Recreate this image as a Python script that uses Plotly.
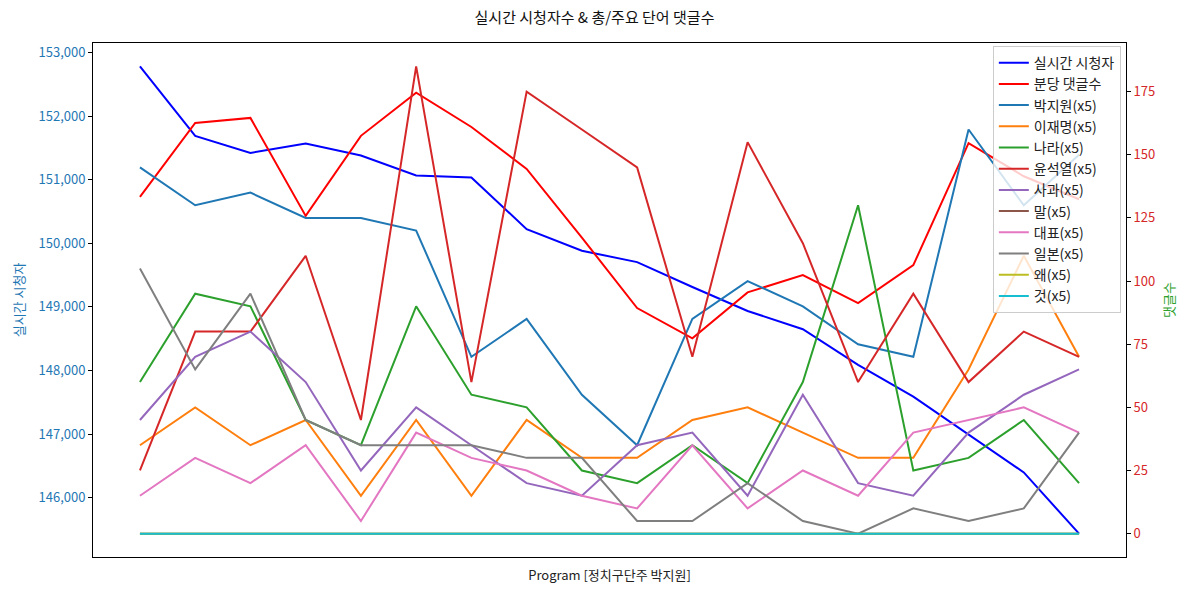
import plotly.graph_objects as go

FONT = "Noto Sans CJK KR"

idx = list(range(18))

viewers = [152781, 151687, 151420, 151567, 151379, 151065, 151034, 150222, 149882, 149704,
           149312, 148935, 148648, 148088, 147590, 146989, 146397, 145435]
comments = [133.3, 162.6, 164.6, 125.8, 157.5, 174.6, 161.0, 144.4, 117.2, 89.3,
            77.3, 95.5, 102.4, 91.3, 106.3, 154.6, 141.5, 132.4]

word_names = ["박지원(x5)", "이재명(x5)", "나라(x5)", "윤석열(x5)", "사과(x5)", "말(x5)",
              "대표(x5)", "일본(x5)", "왜(x5)", "것(x5)"]
w_park = [145, 130, 135, 125, 125, 120, 70, 85, 55, 35, 85, 100, 90, 75, 70, 160, 130, 150]
w_lee = [35, 50, 35, 45, 15, 45, 15, 45, 30, 30, 45, 50, 40, 30, 30, 65, 110, 70]
w_nara = [60, 95, 90, 45, 35, 90, 55, 50, 25, 20, 35, 20, 60, 130, 25, 30, 45, 20]
w_yoon = [25, 80, 80, 110, 45, 185, 60, 175, 160, 145, 70, 155, 115, 60, 95, 60, 80, 70]
w_sagwa = [45, 70, 80, 60, 25, 50, 35, 20, 15, 35, 40, 15, 55, 20, 15, 40, 55, 65]
w_mal = [0] * 18
w_daepyo = [15, 30, 20, 35, 5, 40, 30, 25, 15, 10, 35, 10, 25, 15, 40, 45, 50, 40]
w_ilbon = [105, 65, 95, 45, 35, 35, 35, 30, 30, 5, 5, 20, 5, 0, 10, 5, 10, 40]
w_wae = [0] * 18
w_geot = [0] * 18
word_values = [w_park, w_lee, w_nara, w_yoon, w_sagwa, w_mal, w_daepyo, w_ilbon, w_wae, w_geot]
word_colors = ["#1f77b4", "#ff7f0e", "#2ca02c", "#d62728", "#9467bd", "#8c564b",
               "#e377c2", "#7f7f7f", "#bcbd22", "#17becf"]

fig = go.Figure()
fig.add_trace(go.Scatter(x=idx, y=viewers, mode="lines", name="실시간 시청자",
                         line=dict(color="#0000ff", width=2), yaxis="y"))
fig.add_trace(go.Scatter(x=idx, y=comments, mode="lines", name="분당 댓글수",
                         line=dict(color="#ff0000", width=2), yaxis="y2"))
for n, v, c in zip(word_names, word_values, word_colors):
    fig.add_trace(go.Scatter(x=idx, y=v, mode="lines", name=n,
                             line=dict(color=c, width=2), yaxis="y2"))

def pad(lo, hi, m=0.05):
    d = (hi - lo) * m
    return [lo - d, hi + d]

all_right = comments + [v for s in word_values for v in s]

fig.update_layout(
    width=1189, height=592,
    margin=dict(l=93, r=63, t=43, b=35),
    paper_bgcolor="white", plot_bgcolor="white",
    font=dict(family=FONT, size=13, color="#222"),
    title=dict(text="실시간 시청자수 & 총/주요 단어 댓글수", x=0.5, xanchor="center",
               y=1 - 18 / 592, yanchor="middle", font=dict(size=15, color="#111")),
    xaxis=dict(range=pad(0, 17), showticklabels=False, ticks="", showgrid=False,
               zeroline=False, showline=True, linecolor="black", linewidth=1, mirror=True,
               title=dict(text="Program [정치구단주 박지원]", font=dict(size=13, color="#222"),
                          standoff=13)),
    yaxis=dict(range=pad(min(viewers), max(viewers)), tickformat=",d", dtick=1000,
               showgrid=False, zeroline=False, showline=True, linecolor="black", linewidth=1,
               ticks="outside", ticklen=4, tickcolor="black",
               tickfont=dict(color="#1f77b4", size=13),
               title=dict(text="실시간 시청자", font=dict(color="#1f77b4", size=13), standoff=10)),
    yaxis2=dict(range=pad(min(all_right), max(all_right)), overlaying="y", side="right",
                dtick=25, showgrid=False, zeroline=False, showline=True, linecolor="black",
                linewidth=1, ticks="outside", ticklen=4, tickcolor="black",
                tickfont=dict(color="#d62728", size=13),
                title=dict(text="댓글수", font=dict(color="#2ca02c", size=13), standoff=10)),
    legend=dict(x=0.995, y=0.994, xanchor="right", yanchor="top", bgcolor="rgba(255,255,255,0.8)",
                bordercolor="#cccccc", borderwidth=1, font=dict(size=14, color="#222"),
                tracegroupgap=0, itemwidth=30),
    showlegend=True,
)

fig.write_html("out.html")
